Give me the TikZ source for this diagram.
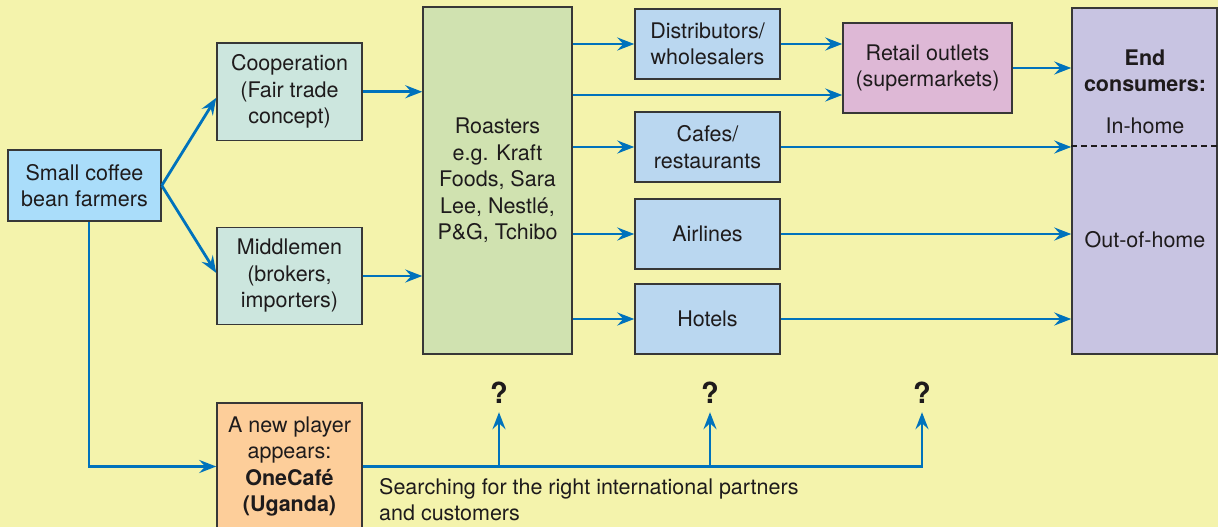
\documentclass[tikz,border=0pt]{standalone}
\usepackage{fontspec}
\setmainfont{TeX Gyre Heros}
\usetikzlibrary{arrows.meta}

\definecolor{bgyellow}{RGB}{244,243,172}
\definecolor{farmblue}{RGB}{170,221,250}
\definecolor{tealbox}{RGB}{204,230,222}
\definecolor{roastgreen}{RGB}{208,226,176}
\definecolor{chanblue}{RGB}{186,215,240}
\definecolor{retailpink}{RGB}{222,184,214}
\definecolor{endlav}{RGB}{200,196,226}
\definecolor{peach}{RGB}{253,206,154}
\definecolor{flowblue}{RGB}{0,114,188}
\definecolor{edgegray}{RGB}{55,55,55}
\definecolor{inkdark}{RGB}{30,27,28}

\begin{document}
\begin{tikzpicture}[x=1pt,y=-1pt,
  every node/.style={font=\fontsize{21.5}{26.5}\selectfont, text=inkdark},
  box/.style={draw=edgegray, line width=1.5pt, align=center, inner sep=0pt},
  flow/.style={draw=flowblue, line width=2.8pt,
    -{Stealth[length=17pt,width=13pt,inset=6pt]}},
  qmark/.style={font=\fontsize{29}{30}\selectfont\bfseries, inner sep=0pt},
  divider/.style={draw=inkdark, line width=2.2pt, dash pattern=on 6pt off 4pt}
]
\useasboundingbox (0,0) rectangle (1218,527);
\clip (0,0) rectangle (1218,527);
\fill[bgyellow] (0,0) rectangle (1218,527);

% supply side
\node[box, fill=farmblue, minimum width=153pt, minimum height=71pt]
  (farm) at (84.5,185.5) {Small coffee\\bean farmers};
\node[box, fill=tealbox, minimum width=145pt, minimum height=97.5pt]
  (coop) at (289.5,91.75) {Cooperation\\(Fair trade\\concept)};
\node[box, fill=tealbox, minimum width=145pt, minimum height=97pt]
  (mid) at (289.5,276) {Middlemen\\(brokers,\\importers)};
\node[box, fill=peach, minimum width=145pt, minimum height=127pt]
  (newp) at (289.5,466.5) {A new player\\appears:\\\textbf{OneCafé}\\\textbf{(Uganda)}};

% roasters
\node[box, fill=roastgreen, minimum width=149pt, minimum height=347pt]
  (roast) at (497.5,180.5) {Roasters\\e.g. Kraft\\Foods, Sara\\Lee, Nestlé,\\P\&G, Tchibo};

% channels
\node[box, fill=chanblue, minimum width=145pt, minimum height=70pt]
  (dist) at (707.5,44) {Distributors/\\wholesalers};
\node[box, fill=chanblue, minimum width=145pt, minimum height=70pt]
  (cafe) at (707.5,147) {Cafes/\\restaurants};
\node[box, fill=chanblue, minimum width=145pt, minimum height=70pt]
  (air) at (707.5,234) {Airlines};
\node[box, fill=chanblue, minimum width=145pt, minimum height=70pt]
  (hotel) at (707.5,319) {Hotels};
\node[box, fill=retailpink, minimum width=169pt, minimum height=90pt]
  (retail) at (927.5,68) {Retail outlets\\(supermarkets)};

% end consumers
\node[box, fill=endlav, minimum width=145pt, minimum height=346pt]
  (endc) at (1144.5,181) {};
\node[font=\fontsize{21.5}{26.5}\selectfont\bfseries, align=center]
  (endtitle) at (1145,71) {End\\consumers:};
\node[anchor=base] (inhome) at (1145,133) {In-home};
\node[anchor=base] (outhome) at (1145,247) {Out-of-home};
\draw[divider] (endc.west |- 0,146) -- (endc.east |- 0,146);

% flows from the farmers
\draw[flow] (farm.east) -- ([yshift=-6pt]coop.west);
\draw[flow] (farm.east) -- ([yshift=3pt]mid.west);
\draw[flow] ([xshift=4.5pt]farm.south) |- (newp.west);
\draw[flow] (coop.east) -- (coop.east -| roast.west);
\draw[flow] (mid.east) -- (mid.east -| roast.west);

% flows from the roasters
\draw[flow] (roast.east |- dist.west) -- (dist.west);
\draw[flow] (roast.east |- 0,95) -- (retail.west |- 0,95);
\draw[flow] (roast.east |- cafe.west) -- (cafe.west);
\draw[flow] (roast.east |- air.west) -- (air.west);
\draw[flow] (roast.east |- hotel.west) -- (hotel.west);

% flows to the end consumers
\draw[flow] (dist.east) -- (dist.east -| retail.west);
\draw[flow] (retail.east) -- (retail.east -| endc.west);
\draw[flow] (cafe.east) -- (cafe.east -| endc.west);
\draw[flow] (air.east) -- (air.east -| endc.west);
\draw[flow] (hotel.east) -- (hotel.east -| endc.west);

% OneCafe searching for partners
\node[qmark, anchor=base] (q1) at (499,403) {?};
\node[qmark, anchor=base] (q2) at (710,403) {?};
\node[qmark, anchor=base] (q3) at (922,403) {?};
\draw[flow] (newp.east) -| ([yshift=-9pt]q3.south);
\draw[flow] (newp.east -| q1) -- ([yshift=-9pt]q1.south);
\draw[flow] (newp.east -| q2) -- ([yshift=-9pt]q2.south);
\node[anchor=north west, align=left, inner sep=0pt] (search) at (379,478)
  {Searching for the right international partners\\and customers};
\end{tikzpicture}
\end{document}
